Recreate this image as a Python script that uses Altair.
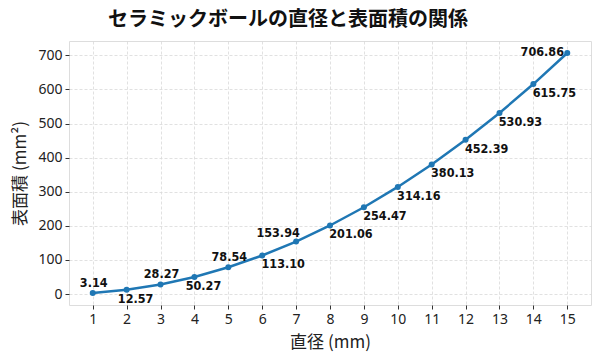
import altair as alt
import pandas as pd

# Ceramic ball: diameter (mm) vs surface area (mm^2)
diameters = [1, 2, 3, 4, 5, 6, 7, 8, 9, 10, 11, 12, 13, 14, 15]
areas = [3.14, 12.57, 28.27, 50.27, 78.54, 113.10, 153.94, 201.06,
         254.47, 314.16, 380.13, 452.39, 530.93, 615.75, 706.86]
y_ticks = [0, 100, 200, 300, 400, 500, 600, 700]
# where each value label sits relative to its point
label_side = ["above", "below", "above", "below", "above", "below-right",
              "above-left", "below-right", "below-right", "below-right",
              "below-right", "below-right", "below-right", "below-right", "left"]

side_offsets = {
    "above": (1, -10),
    "below": (9, 9),
    "below-right": (21, 9),
    "above-left": (-18, -9),
    "left": (-25, -1),
}

df = pd.DataFrame({
    "d": diameters,
    "area": areas,
    "label": [f"{a:.2f}" for a in areas],
    "side": label_side,
})

JP = "Noto Sans CJK JP"
NARROW = "DejaVu Sans Condensed, Liberation Sans Narrow, Noto Sans, sans-serif"
BLUE = "#1f77b4"

common_axis = dict(
    titleFont=JP, titleFontSize=17, titleFontWeight="normal", titleColor="#222",
    labelFont="Noto Sans", labelFontSize=14, labelColor="#222", labelOverlap=False,
    labelPadding=3, tickSize=4, tickColor="#333",
    domain=False, grid=True, gridColor="#d9d9d9", gridDash=[3, 2], gridWidth=0.8,
)

x = alt.X("d:Q",
          scale=alt.Scale(domain=[0.3, 15.7], nice=False, zero=False),
          axis=alt.Axis(title="直径 (mm)", values=diameters, format="d",
                        titlePadding=8, **common_axis))
y = alt.Y("area:Q",
          scale=alt.Scale(domain=[-32.05, 742.05], nice=False, zero=False),
          axis=alt.Axis(title="表面積 (mm²)", values=y_ticks, format="d",
                        titlePadding=8, **common_axis))

base = alt.Chart(df)

line = base.mark_line(color=BLUE, strokeWidth=2.5).encode(x=x, y=y)
points = base.mark_circle(color=BLUE, size=36, opacity=1).encode(x=x, y=y)

label_layers = []
for side, (dx, dy) in side_offsets.items():
    label_layers.append(
        base.transform_filter(alt.datum.side == side)
        .mark_text(font=NARROW, fontWeight="bold", fontSize=12.5,
                   color="#111", align="center", baseline="middle", dx=dx, dy=dy)
        .encode(x=x, y=y, text="label:N")
    )

chart = alt.layer(line, points, *label_layers).properties(
    width=522,
    height=264,
    title=alt.TitleParams("セラミックボールの直径と表面積の関係", font=JP,
                          fontSize=20, fontWeight="bold", color="#111",
                          anchor="middle", dx=-42, offset=11),
    autosize=alt.AutoSizeParams(type="none"),
    padding={"left": 69, "top": 41, "right": 9, "bottom": 55},
).configure_view(stroke="#333", strokeWidth=1).configure(background="white")

chart.save("out.html", embed_options={"renderer": "svg", "actions": False})
